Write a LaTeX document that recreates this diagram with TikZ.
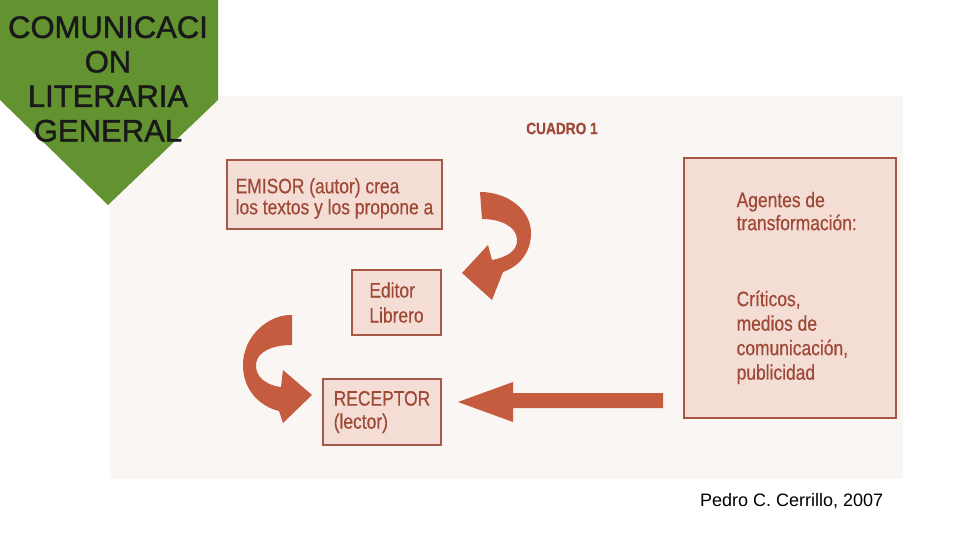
\documentclass[tikz,border=0pt]{standalone}
\usepackage{fontspec}
\setmainfont{Liberation Sans}
\newfontfamily\cuadrofont[FakeStretch=0.83, FakeBold=0.4]{Liberation Sans}
\newfontfamily\titlefont[FakeBold=1.4]{Liberation Sans}
\usetikzlibrary{positioning}

\definecolor{bannergreen}{RGB}{99,146,48}
\definecolor{scanpaper}{RGB}{249,246,244}
\definecolor{boxfill}{RGB}{243,221,213}
\definecolor{boxline}{RGB}{166,88,70}
\definecolor{inkred}{RGB}{160,72,54}
\definecolor{arrowred}{RGB}{197,91,63}

\tikzset{
  cuadrobox/.style={draw=boxline, line width=1.1pt, fill=boxfill, text=inkred,
    align=left, inner sep=0pt, font=\cuadrofont\fontsize{21}{23}\selectfont},
  cuadrotext/.style={text=inkred, align=left, inner sep=0pt,
    font=\cuadrofont\fontsize{21}{24.5}\selectfont},
  blockarrow/.style={fill=arrowred},
}

\begin{document}
\begin{tikzpicture}[x=1pt, y=-1pt]
  \useasboundingbox (0,0) rectangle (960,540);
  \fill[white] (0,0) rectangle (960,540);

  % scanned page
  \fill[scanpaper] (110,96) rectangle (903,479);

  % title banner
  \fill[bannergreen] (0,0) -- (218,0) -- (218,100) -- (108,205) -- (0,100) -- cycle;
  \node[align=center, inner sep=0pt, text=black!90,
    font=\titlefont\fontsize{31}{34.5}\selectfont] (titulo) at (108,79)
    {COMUNICACI\\ON\\LITERARIA\\GENERAL};

  \node[text=inkred, inner sep=0pt, font=\cuadrofont\bfseries\fontsize{16.5}{18}\selectfont]
    (cuadro) at (562,128.5) {CUADRO 1};

  \node[cuadrobox, minimum width=215, minimum height=69] (emisor) at (334.5,194.5)
    {\rule{0pt}{23pt}EMISOR (autor) crea\\[-2pt]los textos y los propone a};
  \node[cuadrobox, minimum width=89, minimum height=65] (editor) at (396.5,302.5)
    {Editor\\[2pt]Librero};
  \node[cuadrobox, minimum width=118, minimum height=66] (receptor) at (382,412)
    {RECEPTOR\\(lector)};
  \node[cuadrobox, minimum width=212, minimum height=260] (agentes) at (790,288) {};
  \node[cuadrotext, anchor=west] (agentestexto) at ([xshift=53]agentes.west)
    {Agentes de\\[-1.5pt]transformación:\\[51.5pt]Críticos,\\medios de\\comunicación,\\publicidad};

  % emisor -> editor
  \fill[blockarrow] (480,192) .. controls (508,192) and (531,210) .. (531,233)
    .. controls (531,252) and (520,266) .. (503,272) -- (492,300) -- (462,273)
    -- (488,245) -- (492,260) .. controls (508,257) and (518,250) .. (517,239)
    .. controls (516,226) and (500,219) .. (482,219) -- cycle;
  % editor -> receptor
  \fill[blockarrow] (292,315) .. controls (270,314) and (243,335) .. (243,365)
    .. controls (243,392) and (262,407) .. (279,411) -- (283,423) -- (312,395)
    -- (283,370) -- (281,387) .. controls (265,385) and (255,376) .. (256,364)
    .. controls (257,352) and (272,345) .. (292,345) -- cycle;
  % agentes -> receptor
  \fill[blockarrow] (458,402) -- (513,382) -- (513,393) -- (663,393) -- (663,408)
    -- (513,408) -- (513,422) -- cycle;

  \node[anchor=base west, inner sep=0pt, font=\fontsize{18}{20}\selectfont]
    (fuente) at (700,506) {Pedro C. Cerrillo, 2007};
\end{tikzpicture}
\end{document}
